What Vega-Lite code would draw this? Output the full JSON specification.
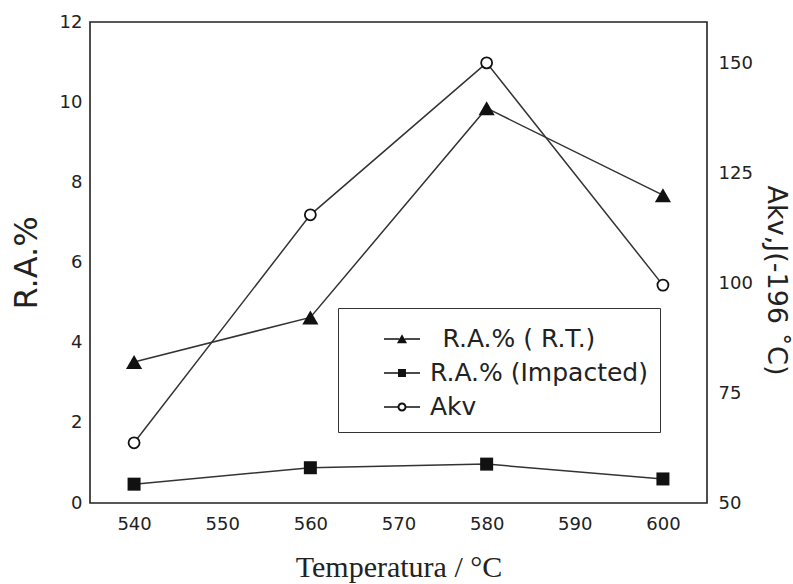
{
  "$schema": "https://vega.github.io/schema/vega-lite/v6.json",
  "width": 617,
  "height": 481,
  "autosize": {"type": "none"},
  "padding": {"left": 90, "top": 22, "right": 86, "bottom": 81},
  "background": "white",
  "config": {
    "view": {"stroke": "#222", "strokeWidth": 1.6},
    "axis": {
      "domain": false,
      "ticks": false,
      "labelFont": "DejaVu Sans", "labelFontSize": 18, "labelColor": "#222",
      "titleColor": "#222", "titleFontWeight": "normal", "grid": false
    }
  },
  "datasets": {
    "main": [
      {"T": 540, "series": "RT", "value": 3.52},
      {"T": 560, "series": "RT", "value": 4.63},
      {"T": 580, "series": "RT", "value": 9.85},
      {"T": 600, "series": "RT", "value": 7.68},
      {"T": 540, "series": "Imp", "value": 0.47},
      {"T": 560, "series": "Imp", "value": 0.88},
      {"T": 580, "series": "Imp", "value": 0.97},
      {"T": 600, "series": "Imp", "value": 0.6},
      {"T": 540, "series": "Akv", "value": 63.7},
      {"T": 560, "series": "Akv", "value": 115.6},
      {"T": 580, "series": "Akv", "value": 150.2},
      {"T": 600, "series": "Akv", "value": 99.6}
    ],
    "ticks": [
      {"axis": "x", "T": 540, "kind": "major"},
      {"axis": "x", "T": 545, "kind": "minor"},
      {"axis": "x", "T": 550, "kind": "major"},
      {"axis": "x", "T": 555, "kind": "minor"},
      {"axis": "x", "T": 560, "kind": "major"},
      {"axis": "x", "T": 565, "kind": "minor"},
      {"axis": "x", "T": 570, "kind": "major"},
      {"axis": "x", "T": 575, "kind": "minor"},
      {"axis": "x", "T": 580, "kind": "major"},
      {"axis": "x", "T": 585, "kind": "minor"},
      {"axis": "x", "T": 590, "kind": "major"},
      {"axis": "x", "T": 595, "kind": "minor"},
      {"axis": "x", "T": 600, "kind": "major"},
      {"axis": "yl", "value": 1, "kind": "minor"},
      {"axis": "yl", "value": 2, "kind": "major"},
      {"axis": "yl", "value": 3, "kind": "minor"},
      {"axis": "yl", "value": 4, "kind": "major"},
      {"axis": "yl", "value": 5, "kind": "minor"},
      {"axis": "yl", "value": 6, "kind": "major"},
      {"axis": "yl", "value": 7, "kind": "minor"},
      {"axis": "yl", "value": 8, "kind": "major"},
      {"axis": "yl", "value": 9, "kind": "minor"},
      {"axis": "yl", "value": 10, "kind": "major"},
      {"axis": "yl", "value": 11, "kind": "minor"},
      {"axis": "yr", "value": 62.5, "kind": "minor"},
      {"axis": "yr", "value": 75, "kind": "major"},
      {"axis": "yr", "value": 87.5, "kind": "minor"},
      {"axis": "yr", "value": 100, "kind": "major"},
      {"axis": "yr", "value": 112.5, "kind": "minor"},
      {"axis": "yr", "value": 125, "kind": "major"},
      {"axis": "yr", "value": 137.5, "kind": "minor"},
      {"axis": "yr", "value": 150, "kind": "major"}
    ]
  },
  "data": {"name": "main"},
  "encoding": {
    "x": {
      "field": "T", "type": "quantitative",
      "scale": {"domain": [535, 605], "nice": false, "zero": false},
      "axis": {
        "values": [540, 550, 560, 570, 580, 590, 600],
        "labelPadding": 12,
        "labelFlush": false,
        "title": "Temperatura / °C",
        "titleFont": "Liberation Serif",
        "titleFontSize": 30,
        "titlePadding": 19
      }
    }
  },
  "layer": [
    {
      "encoding": {
        "y": {
          "field": "value", "type": "quantitative",
          "scale": {"domain": [0, 12], "nice": false},
          "axis": {
            "values": [0, 2, 4, 6, 8, 10, 12],
            "labelPadding": 8,
            "title": "R.A.%",
            "titleFont": "DejaVu Sans",
            "titleFontSize": 32,
            "titlePadding": 16
          }
        }
      },
      "layer": [
        {"transform": [{"filter": "datum.series !== 'Akv'"}], "mark": {"type": "line", "color": "#333", "strokeWidth": 1.5}, "encoding": {"detail": {"field": "series"}}},
        {"transform": [{"filter": "datum.series === 'RT'"}], "mark": {"type": "point", "shape": "triangle-up", "filled": true, "color": "#111", "size": 260, "opacity": 1}},
        {"transform": [{"filter": "datum.series === 'Imp'"}], "mark": {"type": "point", "shape": "square", "filled": true, "color": "#111", "size": 169, "opacity": 1}},
        {
          "data": {"name": "ticks"},
          "transform": [{"filter": "datum.axis === 'x' && datum.kind === 'major'"}],
          "mark": {"type": "tick", "orient": "vertical", "size": 8, "thickness": 1.6, "color": "#111", "opacity": 1, "yOffset": -4},
          "encoding": {"y": {"datum": 0}}
        },
        {
          "data": {"name": "ticks"},
          "transform": [{"filter": "datum.axis === 'x' && datum.kind === 'minor'"}],
          "mark": {"type": "tick", "orient": "vertical", "size": 4, "thickness": 1.6, "color": "#111", "opacity": 1, "yOffset": -2},
          "encoding": {"y": {"datum": 0}}
        },
        {
          "data": {"name": "ticks"},
          "transform": [{"filter": "datum.axis === 'yl' && datum.kind === 'major'"}],
          "mark": {"type": "tick", "orient": "horizontal", "size": 8, "thickness": 1.6, "color": "#111", "opacity": 1, "xOffset": 4},
          "encoding": {"x": {"datum": 535}}
        },
        {
          "data": {"name": "ticks"},
          "transform": [{"filter": "datum.axis === 'yl' && datum.kind === 'minor'"}],
          "mark": {"type": "tick", "orient": "horizontal", "size": 4, "thickness": 1.6, "color": "#111", "opacity": 1, "xOffset": 2},
          "encoding": {"x": {"datum": 535}}
        }
      ]
    },
    {
      "encoding": {
        "y": {
          "field": "value", "type": "quantitative",
          "scale": {"domain": [50, 159.5], "nice": false, "zero": false},
          "axis": {
            "orient": "right",
            "values": [50, 75, 100, 125, 150],
            "labelPadding": 11,
            "title": "Akv,J(-196 ˚C)",
            "titleFont": "DejaVu Sans",
            "titleFontSize": 27,
            "titlePadding": 9,
            "titleY": 258
          }
        }
      },
      "layer": [
        {"transform": [{"filter": "datum.series === 'Akv'"}], "mark": {"type": "line", "color": "#333", "strokeWidth": 1.5}, "encoding": {}},
        {"transform": [{"filter": "datum.series === 'Akv'"}], "mark": {"type": "point", "shape": "circle", "filled": false, "fill": "white", "stroke": "#111", "strokeWidth": 1.8, "size": 121, "opacity": 1}},
        {
          "data": {"name": "ticks"},
          "transform": [{"filter": "datum.axis === 'yr' && datum.kind === 'major'"}],
          "mark": {"type": "tick", "orient": "horizontal", "size": 8, "thickness": 1.6, "color": "#111", "opacity": 1, "xOffset": -4},
          "encoding": {"x": {"datum": 605}}
        },
        {
          "data": {"name": "ticks"},
          "transform": [{"filter": "datum.axis === 'yr' && datum.kind === 'minor'"}],
          "mark": {"type": "tick", "orient": "horizontal", "size": 4, "thickness": 1.6, "color": "#111", "opacity": 1, "xOffset": -2},
          "encoding": {"x": {"datum": 605}}
        }
      ]
    },
    {
      "transform": [{"filter": "false"}],
      "mark": {"type": "point", "filled": true, "color": "#111", "opacity": 1},
      "encoding": {
        "shape": {
          "field": "label", "type": "nominal",
          "scale": {
            "domain": ["\u200b\u2002R.A.% ( R.T.)", "R.A.% (Impacted)", "Akv"],
            "range": [
              "M-1,-0.045L-0.15,-0.045L-0.15,0.045L-1,0.045ZM0.15,-0.045L1,-0.045L1,0.045L0.15,0.045ZM-0.28,0.24L0,-0.26L0.28,0.24Z",
              "M-1,-0.045L-0.22,-0.045L-0.22,0.045L-1,0.045ZM0.22,-0.045L1,-0.045L1,0.045L0.22,0.045ZM-0.22,-0.22L0.22,-0.22L0.22,0.22L-0.22,0.22Z",
              "M-1,-0.045L-0.24,-0.045L-0.24,0.045L-1,0.045ZM0.24,-0.045L1,-0.045L1,0.045L0.24,0.045ZM0.25,0A0.25,0.25 0 1 1 -0.25,0A0.25,0.25 0 1 1 0.25,0ZM0.14,0A0.14,0.14 0 1 0 -0.14,0A0.14,0.14 0 1 0 0.14,0Z"
            ]
          },
          "legend": {
            "orient": "none", "legendX": 248, "legendY": 286,
            "title": null,
            "padding": 12,
            "strokeColor": "#333",
            "fillColor": "white",
            "symbolSize": 1296,
            "symbolOffset": 33,
            "labelOffset": 9,
            "labelFont": "DejaVu Sans",
            "labelFontSize": 25,
            "labelColor": "#222",
            "labelLimit": 400,
            "rowPadding": 2,
            "symbolFillColor": "#111",
            "symbolOpacity": 1
          }
        }
      }
    }
  ],
  "resolve": {"scale": {"y": "independent"}}
}
